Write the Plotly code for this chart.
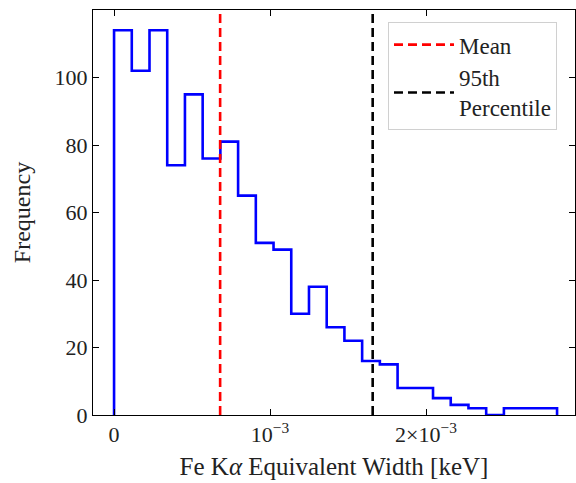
import plotly.graph_objects as go

# Data
bin_start = 0.0
bin_width = 1.136e-4
counts = [114, 102, 114, 74, 95, 76, 81, 65, 51, 49, 30, 38, 26, 22, 16, 15,
          8, 8, 5, 3, 2, 0, 2, 2, 2]
mean_val = 0.68e-3
p95_val = 1.658e-3
xtick_vals = [0, 1e-3, 2e-3]
xtick_text = ["0", "10<sup>−3</sup>", "2×10<sup>−3</sup>"]
ytick_vals = [0, 20, 40, 60, 80, 100]

edges = [bin_start + i * bin_width for i in range(len(counts) + 1)]
step_x = [edges[0]] + edges
step_y = [0] + counts + [0]

FONT = "Liberation Serif"

fig = go.Figure()
fig.add_trace(go.Scatter(x=step_x, y=step_y, mode="lines", line_shape="hv",
                         line=dict(color="#0000ff", width=2.6),
                         showlegend=False, hoverinfo="skip"))
fig.add_trace(go.Scatter(x=[mean_val, mean_val], y=[0, 120], mode="lines",
                         line=dict(color="#ff0000", width=2.6, dash="9px,5px"),
                         name="Mean"))
fig.add_trace(go.Scatter(x=[p95_val, p95_val], y=[0, 120], mode="lines",
                         line=dict(color="#000000", width=2.6, dash="9px,5px"),
                         name="95th<br>Percentile"))

axis_common = dict(showline=True, linecolor="black", linewidth=1, mirror="ticks",
                   ticks="inside", ticklen=6, tickwidth=1, tickcolor="black",
                   showgrid=False, zeroline=False,
                   tickfont=dict(family=FONT, size=22, color="#222"))

fig.update_xaxes(range=[-0.135e-3, 2.955e-3], tickvals=xtick_vals, ticktext=xtick_text,
                 title=dict(text="Fe K<i>α</i> Equivalent Width [keV]",
                            font=dict(family=FONT, size=25, color="#222"), standoff=11),
                 **axis_common)
fig.update_yaxes(range=[0, 120], tickvals=ytick_vals,
                 title=dict(text="Frequency", font=dict(family=FONT, size=24, color="#222"),
                            standoff=17),
                 **axis_common)

fig.update_layout(width=576, height=483,
                  margin=dict(l=93, r=1, t=10, b=68),
                  plot_bgcolor="white", paper_bgcolor="white",
                  font=dict(family=FONT, size=22, color="#222"),
                  legend=dict(x=0.612, y=0.97, xanchor="left", yanchor="top",
                              bordercolor="#d0d0d0", borderwidth=1, bgcolor="white",
                              font=dict(family=FONT, size=23, color="#222"),
                              itemwidth=60, tracegroupgap=0))

fig.write_html("out.html")
